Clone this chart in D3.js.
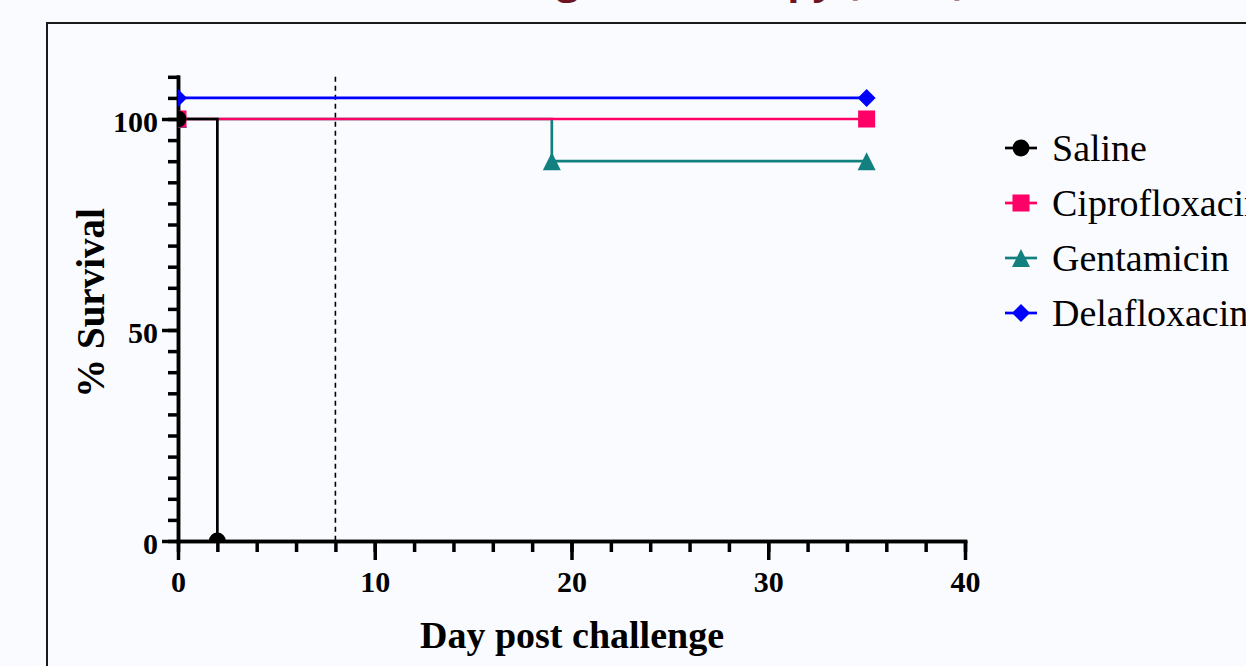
<!DOCTYPE html>
<html>
<head>
<meta charset="utf-8">
<script src="https://cdn.jsdelivr.net/npm/d3@7"></script>
<style>
  html, body { margin: 0; padding: 0; background: #fafbfe; overflow: hidden; }
  svg { display: block; }
</style>
</head>
<body>
<svg id="graphic-svg" width="1246" height="666"></svg>
<script>
// data
var seriesNames = ["Saline", "Ciprofloxacin", "Gentamicin", "Delafloxacin"];
var salineDays = [0, 2];
var salineSurv = [100, 0];
var ciproDays = [0, 35];
var ciproSurv = [100, 100];
var gentaDays = [0, 19, 35];
var gentaSurv = [100, 90, 90];
var delaDays = [0, 35];
var delaSurv = [105, 105]; // 100%, drawn offset as in the original
var xMajor = [0, 10, 20, 30, 40];
var yMajor = [0, 50, 100];
var treatmentEnd = 8; // dashed line

function init() {
  var svg = d3.select("#graphic-svg");
  var colors = ["#000000", "#ff0066", "#138080", "#0000ff"];
  var shapes = ["circle", "square", "triangle", "diamond"];

  var x = d3.scaleLinear().domain([0, 40]).range([178, 965]);
  var y = d3.scaleLinear().domain([0, 110]).range([541, 76.8]);

  // title (mostly cut off above the page)
  svg.append("text")
     .attr("x", 622).attr("y", -6)
     .attr("text-anchor", "middle")
     .style("font-family", "'Open Sans', sans-serif")
     .style("font-weight", "bold")
     .style("font-size", "40px")
     .style("fill", "#6e1423")
     .text("Survival during late therapy (MDR)");

  // frame
  svg.append("rect")
     .attr("x", 47).attr("y", 23)
     .attr("width", 1400).attr("height", 800)
     .attr("fill", "none")
     .attr("stroke", "#1a1a1a")
     .attr("stroke-width", 2);

  // axes
  function styleAxis(g) {
    g.selectAll("path, line").attr("stroke", "#000").attr("stroke-width", 3.5);
  }
  // minor ticks
  svg.append("g").attr("transform", "translate(178,0)")
     .call(d3.axisLeft(y).tickValues(d3.range(0, 111, 5)).tickSize(10).tickSizeOuter(0).tickFormat(""))
     .call(styleAxis);
  svg.append("g").attr("transform", "translate(0,541)")
     .call(d3.axisBottom(x).tickValues(d3.range(0, 41, 2)).tickSize(11).tickSizeOuter(0).tickFormat(""))
     .call(styleAxis);
  // major ticks with labels
  var yAx = svg.append("g").attr("transform", "translate(178,0)")
     .call(d3.axisLeft(y).tickValues(yMajor).tickSize(16).tickSizeOuter(0))
     .call(styleAxis);
  yAx.selectAll("text")
     .attr("x", -20).attr("dy", "0.4em")
     .style("font-family", "'Liberation Serif', 'Times New Roman', serif")
     .style("font-weight", "bold").style("font-size", "30px").style("fill", "#000");
  var xAx = svg.append("g").attr("transform", "translate(0,541)")
     .call(d3.axisBottom(x).tickValues(xMajor).tickSize(19).tickSizeOuter(0))
     .call(styleAxis);
  xAx.selectAll("text")
     .attr("y", 51).attr("dy", 0)
     .style("font-family", "'Liberation Serif', 'Times New Roman', serif")
     .style("font-weight", "bold").style("font-size", "30px").style("fill", "#000");
  svg.selectAll(".domain").attr("stroke-linecap", "square");

  // axis titles
  svg.append("text")
     .attr("transform", "translate(104,303) rotate(-90)")
     .attr("text-anchor", "middle")
     .style("font-family", "'Liberation Serif', 'Times New Roman', serif")
     .style("font-weight", "bold").style("font-size", "39px")
     .text("% Survival");
  svg.append("text")
     .attr("x", 572).attr("y", 648)
     .attr("text-anchor", "middle")
     .style("font-family", "'Liberation Serif', 'Times New Roman', serif")
     .style("font-weight", "bold").style("font-size", "38px")
     .text("Day post challenge");

  // dashed line at end of treatment
  svg.append("line")
     .attr("x1", x(treatmentEnd)).attr("x2", x(treatmentEnd))
     .attr("y1", y(110)).attr("y2", y(0))
     .attr("stroke", "#000").attr("stroke-width", 1.6)
     .attr("stroke-dasharray", "5,4");

  // clip to plot area
  svg.append("clipPath").attr("id", "plot-clip")
     .append("rect").attr("x", 178).attr("y", 0).attr("width", 900).attr("height", 541);

  var series = [
    { days: salineDays, surv: salineSurv },
    { days: ciproDays, surv: ciproSurv },
    { days: gentaDays, surv: gentaSurv },
    { days: delaDays, surv: delaSurv }
  ];
  series.forEach(function(s, i) {
    s.pts = s.days.map(function(d, j) { return [d, s.surv[j]]; });
    s.color = colors[i];
    s.shape = shapes[i];
  });

  var line = d3.line()
     .x(function(d) { return x(d[0]); })
     .y(function(d) { return y(d[1]); })
     .curve(d3.curveStepAfter);

  var plot = svg.append("g").attr("clip-path", "url(#plot-clip)");
  // lines: gentamicin, cipro, delafloxacin, saline on top
  [2, 1, 3, 0].forEach(function(i) {
    plot.append("path")
       .attr("d", line(series[i].pts))
       .attr("fill", "none")
       .attr("stroke", series[i].color)
       .attr("stroke-width", 2.7);
  });

  // marker shapes
  function sym(shape) {
    if (shape === "circle") return d3.symbol().type(d3.symbolCircle).size(225)();
    if (shape === "square") return d3.symbol().type(d3.symbolSquare).size(290)();
    if (shape === "triangle") return "M0,-9L9,9L-9,9Z";
    return "M0,-9L9,0L0,9L-9,0Z";
  }
  // markers: gentamicin, cipro, saline, delafloxacin
  [2, 1, 0, 3].forEach(function(i) {
    plot.selectAll(".m" + i)
       .data(series[i].pts)
       .enter()
       .append("path")
       .attr("class", "m" + i)
       .attr("d", sym(series[i].shape))
       .attr("transform", function(d) {
         return "translate(" + x(d[0]) + "," + y(d[1]) + ")";
       })
       .attr("fill", series[i].color);
  });

  // legend
  var legend = svg.append("g").attr("transform", "translate(1005,148)");
  var rows = legend.selectAll("g")
     .data(series)
     .enter()
     .append("g")
     .attr("transform", function(d, i) { return "translate(0," + (i * 55) + ")"; });
  rows.append("line")
     .attr("x1", 0).attr("x2", 32)
     .attr("stroke", function(d) { return d.color; })
     .attr("stroke-width", 2.7);
  rows.append("path")
     .attr("d", function(d) { return sym(d.shape); })
     .attr("transform", "translate(16,0)")
     .attr("fill", function(d) { return d.color; });
  rows.append("text")
     .attr("x", 47).attr("y", 13)
     .style("font-family", "'Liberation Serif', 'Times New Roman', serif")
     .style("font-size", "38px")
     .text(function(d, i) { return seriesNames[i]; });
}

init();
</script>
</body>
</html>
